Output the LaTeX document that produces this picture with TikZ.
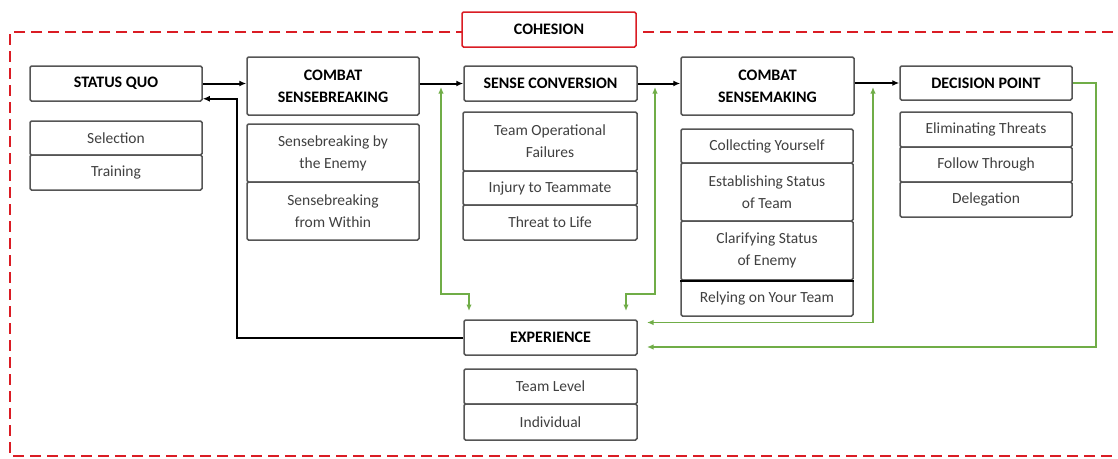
\documentclass[tikz,border=0pt]{standalone}
\usepackage{fontspec}
\setmainfont{Carlito}
\usetikzlibrary{arrows.meta,calc}
\definecolor{cohred}{RGB}{218,28,36}
\definecolor{linkgreen}{RGB}{112,173,71}
\definecolor{boxgray}{RGB}{85,85,85}
\definecolor{textgray}{RGB}{64,64,64}
\tikzset{
  sz/.style 2 args={minimum width=#1, minimum height=#2},
  box/.style={draw=boxgray, line width=1.5pt, rounded corners=1.5pt, fill=white,
              inner sep=0pt, align=center},
  head/.style={box, text=black, font=\fontsize{16}{22}\selectfont\bfseries},
  item/.style={box, text=textgray, font=\fontsize{15.5}{22}\selectfont},
  flow/.style={draw=black, line width=2pt, -{Latex[length=7pt,width=6pt]}},
  link/.style={draw=linkgreen, line width=1.7pt, >={Latex[length=6.5pt,width=5.5pt]}},
}
\begin{document}
\begin{tikzpicture}[x=1pt,y=-1pt]
\useasboundingbox (0,0) rectangle (1118,458);
\fill[white] (0,0) rectangle (1118,458);

% dashed frame of the cohesion region
\begin{scope}
  \clip (0,0) rectangle (1118,458);
  \draw[cohred, line width=2.8pt, dash pattern=on 11pt off 6pt]
    (1130,32) -- (10,32) -- (10,456) -- (1130,456);
\end{scope}
\node[box, draw=cohred, sz={174}{35}, text=black,
      font=\fontsize{16}{18}\selectfont\bfseries] (coh) at (549,29.5) {COHESION};

% status quo
\node[head, sz={172}{35}] (sq)  at (116,83.5)  {STATUS QUO};
\node[item, sz={172}{34}] (sq1) at (116,138)   {Selection};
\node[item, sz={172}{35}] (sq2) at (116,172.5) {Training};

% combat sensebreaking
\node[head, sz={172}{58}] (csb)  at (333,86)  {COMBAT\\SENSEBREAKING};
\node[item, sz={172}{58}] (csb1) at (333,153) {Sensebreaking by\\the Enemy};
\node[item, sz={172}{58}] (csb2) at (333,211) {Sensebreaking\\from Within};

% sense conversion
\node[head, sz={173}{35}] (sc)  at (550.5,83.5) {SENSE CONVERSION};
\node[item, sz={174}{59}] (sc1) at (550,141.5)  {Team Operational\\Failures};
\node[item, sz={174}{34}] (sc2) at (550,188)    {Injury to Teammate};
\node[item, sz={174}{35}] (sc3) at (550,222.5)  {Threat to Life};

% combat sensemaking
\node[head, sz={173}{58}] (csm)  at (767.5,86)  {COMBAT\\SENSEMAKING};
\node[item, sz={172}{34}] (csm1) at (767,146)   {Collecting Yourself};
\node[item, sz={172}{58}] (csm2) at (767,192)   {Establishing Status\\of Team};
\node[item, sz={172}{59}] (csm3) at (767,250.5) {Clarifying Status\\of Enemy};
\node[item, sz={172}{36}] (csm4) at (767,298)   {Relying on Your Team};
\draw[black, line width=2.4pt] (csm3.south west) -- (csm3.south east);

% decision point
\node[head, sz={172}{34}] (dp)  at (986,83)    {DECISION POINT};
\node[item, sz={172}{35}] (dp1) at (986,129.5) {Eliminating Threats};
\node[item, sz={172}{35}] (dp2) at (986,164.5) {Follow Through};
\node[item, sz={172}{35}] (dp3) at (986,199.5) {Delegation};

% experience
\node[head, sz={173}{35}] (exp)  at (550.5,337.5) {EXPERIENCE};
\node[item, sz={173}{35}] (exp1) at (550.5,386.5) {Team Level};
\node[item, sz={173}{36}] (exp2) at (550.5,422)   {Individual};

% main flow
\draw[flow] (sq.east) -- (sq.east -| csb.west);
\draw[flow] (sc.west -| csb.east) -- (sc.west);
\draw[flow] (sc.east) -- (sc.east -| csm.west);
\draw[flow] (dp.west -| csm.east) -- (dp.west);
\draw[flow] (exp.west) -| ([xshift=34pt,yshift=3pt]sq.south east)
            -- ([yshift=3pt]sq.south east);

% feedback links with experience
\coordinate (g1a) at (441,87);
\coordinate (g1b) at (469,311);
\coordinate (g2a) at (655,87);
\coordinate (g2b) at (626,311);
\coordinate (g3a) at (873,87);
\coordinate (g3b) at (647,322.5);
\coordinate (g4b) at (647,347);
\draw[link, <->] (g1a) -- (441,294) -| (g1b);
\draw[link, <->] (g2a) -- (655,294) -| (g2b);
\draw[link, <->] (g3a) |- (g3b);
\draw[link, ->] (dp.east) -- (1096,83) |- (g4b);
\end{tikzpicture}
\end{document}
